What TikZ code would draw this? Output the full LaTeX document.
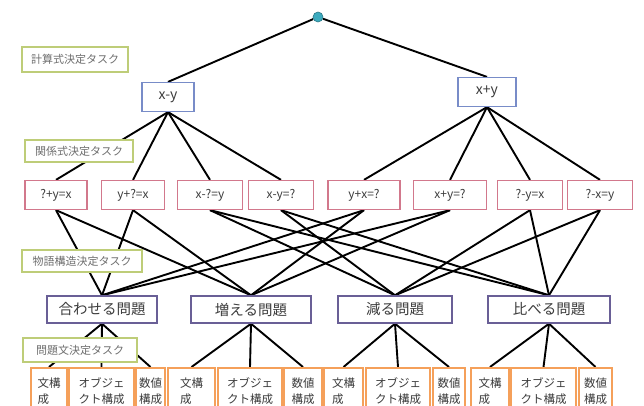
\documentclass[tikz,border=0pt]{standalone}
\usepackage{fontspec}
\setmainfont{Noto Sans CJK JP}
\definecolor{lblc}{RGB}{190,205,120}
\definecolor{lbltext}{RGB}{110,110,110}
\definecolor{lonec}{RGB}{120,140,200}
\definecolor{ltwoc}{RGB}{210,120,140}
\definecolor{lthreec}{RGB}{105,95,150}
\definecolor{lbotc}{RGB}{245,160,90}
\definecolor{topc}{RGB}{60,170,190}
\definecolor{dtext}{RGB}{60,60,60}
\pgfdeclarelayer{bg}
\pgfsetlayers{bg,main}
\begin{document}
\begin{tikzpicture}[x=1pt,y=-1pt,
  conn/.style={line width=1.9pt, black},
  lbl/.style={draw=lblc, line width=1.3pt, fill=white, font=\fontsize{11}{13}\selectfont, text=lbltext, inner sep=1pt},
  lone/.style={draw=lonec, line width=1.2pt, fill=white, font=\fontsize{14}{16}\selectfont, text=dtext, minimum height=29pt},
  ltwo/.style={draw=ltwoc, line width=1.3pt, fill=white, font=\fontsize{12}{14}\selectfont, text=dtext, minimum height=29pt},
  lthree/.style={draw=lthreec, line width=1.4pt, fill=white, font=\fontsize{14.5}{16}\selectfont, text=dtext, minimum height=27pt},
  lbot/.style={draw=lbotc, line width=2.2pt, fill=white, font=\fontsize{11.5}{15.5}\selectfont, text=dtext, align=left, minimum height=46pt, anchor=north, inner sep=1pt},
]
\useasboundingbox (0,0) rectangle (644,406);

% top
\node[circle, fill=topc, draw=topc!70!black, line width=0.6pt, minimum size=10pt, inner sep=0pt] (top) at (318,17) {};
\node[lone, minimum width=52pt] (xmy) at (168,97) {x-y};
\node[lone, minimum width=58pt] (xpy) at (487,92) {x+y};

% level 2
\node[ltwo, minimum width=62pt] (a1) at (56,195) {?+y=x};
\node[ltwo, minimum width=63pt] (a2) at (133,195) {y+?=x};
\node[ltwo, minimum width=65pt] (a3) at (210,195) {x-?=y};
\node[ltwo, minimum width=65pt] (a4) at (281,195) {x-y=?};
\node[ltwo, minimum width=72pt] (a5) at (364,195) {y+x=?};
\node[ltwo, minimum width=73pt] (a6) at (450,195) {x+y=?};
\node[ltwo, minimum width=65pt] (a7) at (530,195) {?-y=x};
\node[ltwo, minimum width=65pt] (a8) at (600,195) {?-x=y};

% level 3
\node[lthree, minimum width=110pt] (b1) at (102,309.5) {合わせる問題};
\node[lthree, minimum width=120pt] (b2) at (251,309.5) {増える問題};
\node[lthree, minimum width=114pt] (b3) at (395,309.5) {減る問題};
\node[lthree, minimum width=122pt] (b4) at (549,309.5) {比べる問題};

% task labels
\node[lbl, minimum width=106pt, minimum height=25pt] (t1) at (75,59.5) {計算式決定タスク};
\node[lbl, minimum width=108pt, minimum height=22pt] (t2) at (79,151) {関係式決定タスク};
\node[lbl, minimum width=120pt, minimum height=22pt] (t3) at (82,261) {物語構造決定タスク};
\node[lbl, minimum width=114pt, minimum height=24pt] (t4) at (80,350) {問題文決定タスク};

% bottom boxes
\node[lbot, minimum width=36pt] (c1) at (49,367) {文構\\成};
\node[lbot, minimum width=65pt] (c2) at (101.5,367) {オブジェ\\クト構成};
\node[lbot, minimum width=29pt] (c3) at (150.5,367) {数値\\構成};
\node[lbot, minimum width=47pt] (c4) at (191.5,367) {文構\\成};
\node[lbot, minimum width=64pt] (c5) at (250,367) {オブジェ\\クト構成};
\node[lbot, minimum width=38pt] (c6) at (303,367) {数値\\構成};
\node[lbot, minimum width=39pt] (c7) at (343.5,367) {文構\\成};
\node[lbot, minimum width=64pt] (c8) at (398,367) {オブジェ\\クト構成};
\node[lbot, minimum width=32pt] (c9) at (449,367) {数値\\構成};
\node[lbot, minimum width=38pt] (c10) at (490,367) {文構\\成};
\node[lbot, minimum width=65pt] (c11) at (543.5,367) {オブジェ\\クト構成};
\node[lbot, minimum width=33pt] (c12) at (595.5,367) {数値\\構成};

\begin{pgfonlayer}{bg}
\fill[white] (0,0) rectangle (644,406);
\draw[conn] (top) -- (xmy.north);
\draw[conn] (top) -- (xpy.north);
\foreach \n in {a1,a2,a3,a4} \draw[conn] (xmy.south) -- (\n.north);
\foreach \n in {a5,a6,a7,a8} \draw[conn] (xpy.south) -- (\n.north);
\foreach \n in {a1,a2,a5,a6} {
  \draw[conn] (\n.south) -- (b1.north);
  \draw[conn] (\n.south) -- (b2.north);
}
\foreach \n in {a3,a4,a7,a8} {
  \draw[conn] (\n.south) -- (b3.north);
  \draw[conn] (\n.south) -- (b4.north);
}
\foreach \n in {c1,c2,c3} \draw[conn] (b1.south) -- (\n.north);
\foreach \n in {c4,c5,c6} \draw[conn] (b2.south) -- (\n.north);
\foreach \n in {c7,c8,c9} \draw[conn] (b3.south) -- (\n.north);
\foreach \n in {c10,c11,c12} \draw[conn] (b4.south) -- (\n.north);
\end{pgfonlayer}
\end{tikzpicture}
\end{document}
